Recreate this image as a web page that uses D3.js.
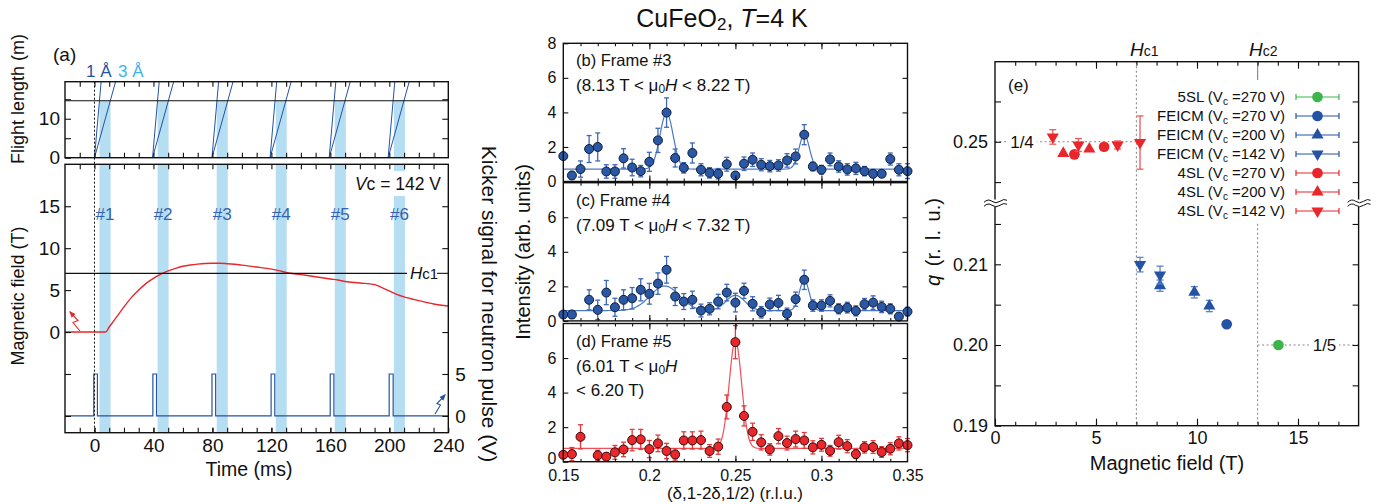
<!DOCTYPE html>
<html>
<head>
<meta charset="utf-8">
<script src="https://cdn.jsdelivr.net/npm/d3@7"></script>
<style>
  body { margin: 0; background: #fff; }
  svg { display: block; font-family: "Liberation Sans", Arial, Helvetica, sans-serif; }
  .tick text { fill: #111; }
</style>
</head>
<body>
<svg id="fig" width="1379" height="504"></svg>
<script>
// ================= data =================
// (a) timing diagram
const pulseStarts   = [0, 39.4, 79.7, 119.1, 159.2, 199.2];   // ms, neutron bunch leaves chopper
const arrival1A     = 4.5;     // ms to cover the full flight axis (1 Å)
const arrival3A     = 14.3;    // ms to cover the full flight axis (3 Å)
const flightTop     = 19.5;    // m, top of flight axis
const detectorDist  = 14.6;    // m, sample-detector flight length
const frameStart    = [3.4, 42.8, 82.9, 123.0, 163.0, 203.1];  // ms
const frameEnd      = [10.9, 50.3, 90.4, 130.4, 170.5, 210.6]; // ms
const frameLabels   = ["#1", "#2", "#3", "#4", "#5", "#6"];
const kickerRise    = [-0.5, 39.6, 79.7, 119.8, 159.9, 199.9]; // ms
const kickerFall    = [2.0, 42.1, 82.2, 122.3, 162.4, 202.6];  // ms
const kickerHigh    = 5;       // V
const fieldTime  = [-20, 7.5, 10, 15, 20, 25, 30, 35, 40, 45, 50, 55, 60, 65, 70, 75, 80, 85, 90, 95, 100, 110, 120, 125, 130, 140, 150, 160, 165, 170, 180, 190, 195, 200, 205, 210, 220, 230, 240];
const fieldValue = [0, 0, 0.6, 1.8, 3.0, 4.1, 5.0, 5.8, 6.4, 6.9, 7.3, 7.6, 7.85, 8.0, 8.1, 8.17, 8.2, 8.2, 8.15, 8.08, 7.98, 7.75, 7.5, 7.32, 7.1, 6.85, 6.6, 6.32, 6.2, 6.02, 5.85, 5.65, 5.3, 4.9, 4.5, 4.2, 3.75, 3.35, 3.1];
const hc1 = 7;   // T

// (b)-(d) line scans along (δ,1-2δ,1/2)
const delta = [0.150, 0.155, 0.160, 0.165, 0.170, 0.175, 0.180, 0.185, 0.190, 0.195,
               0.200, 0.205, 0.210, 0.215, 0.220, 0.225, 0.230, 0.235, 0.240, 0.245,
               0.250, 0.255, 0.260, 0.265, 0.270, 0.275, 0.280, 0.285, 0.290, 0.295,
               0.300, 0.305, 0.310, 0.315, 0.320, 0.325, 0.330, 0.335, 0.340, 0.345, 0.350];
const intensityB = [1.47, 0.35, 0.72, 1.88, 2.0, 0.58, 0.58, 1.34, 0.81, 0.6,
                    1.14, 2.38, 3.99, 1.36, 0.79, 1.65, 0.68, 0.5, 0.45, 1.0,
                    0.35, 1.03, 1.26, 0.97, 0.89, 0.93, 1.22, 1.45, 2.71, 0.87,
                    0.68, 1.28, 0.87, 0.7, 0.76, 0.6, 0.45, 0.45, 1.3, 0.68, 0.6];
const errorB     = [0.05, 0.23, 0.47, 0.78, 0.81, 0.39, 0.39, 0.56, 0.48, 0.33,
                    0.55, 0.7, 0.85, 0.52, 0.3, 0.58, 0.35, 0.3, 0.3, 0.4,
                    0.2, 0.39, 0.39, 0.35, 0.33, 0.33, 0.39, 0.43, 0.58, 0.25,
                    0.25, 0.37, 0.33, 0.33, 0.35, 0.27, 0.23, 0.2, 0.35, 0.35, 0.43];
const intensityC = [0.37, 0.37, null, 1.22, 0.64, 1.64, 0.79, 1.22, 1.31, 1.8,
                    1.57, 2.16, 2.96, 1.41, 1.12, 1.22, 0.6, 0.7, 1.12, 1.64,
                    1.06, 1.74, 0.99, 0.5, 0.95, 1.04, 0.41, 1.26, 2.38, 0.89,
                    0.89, 1.16, 0.7, 0.77, 0.58, 0.97, 1.06, 0.81, 0.7, 0.25, 0.54];
const errorC     = [0.15, 0.23, null, 0.58, 0.56, 0.7, 0.52, 0.58, 0.62, 0.64,
                    0.6, 0.62, 0.77, 0.52, 0.46, 0.5, 0.37, 0.35, 0.42, 0.48,
                    0.54, 0.44, 0.41, 0.33, 0.37, 0.44, 0.33, 0.41, 0.56, 0.33,
                    0.33, 0.35, 0.29, 0.31, 0.29, 0.33, 0.39, 0.33, 0.29, 0.19, 0.25];
const intensityD = [0.4, 0.44, 1.44, null, 0.37, 0.29, 0.54, 0.71, 1.25, 1.29,
                    0.73, 1.06, 0.62, 0.42, 1.23, 1.23, 1.25, 0.62, 0.87, 3.17,
                    6.92, 2.65, 1.73, 1.12, 0.71, 1.48, 1.08, 1.31, 1.23, 0.83,
                    0.98, 0.63, 1.13, 0.9, 0.44, 0.83, 0.85, 0.56, 0.75, 1.06, 0.96];
const errorD     = [0.19, 0.38, 0.7, null, 0.29, 0.23, 0.4, 0.42, 0.62, 0.58,
                    0.5, 0.48, 0.44, 0.33, 0.5, 0.5, 0.52, 0.37, 0.44, 0.69,
                    0.96, 0.58, 0.5, 0.44, 0.33, 0.44, 0.4, 0.46, 0.46, 0.38,
                    0.37, 0.31, 0.4, 0.38, 0.25, 0.33, 0.37, 0.31, 0.35, 0.38, 0.38];
// Gaussian fit parameters: [centre, amplitude, sigma]
const fitBaseB = 0.72, fitPeaksB = [[0.210, 3.25, 0.0038], [0.290, 2.0, 0.0030]];
const fitBaseC = 0.60, fitPeaksC = [[0.209, 1.42, 0.0085], [0.250, 0.88, 0.0055], [0.290, 1.78, 0.0028]];
const fitBaseD = 0.77, fitPeaksD = [[0.250, 6.25, 0.0036]];

// (e) modulation wave number vs field: [field (T), q (r.l.u.), error]
const sl5_270   = [[14.03, 0.2000, 0]];
const feicm_270 = [[11.47, 0.20257, 0.0002]];
const feicm_200 = [[8.17, 0.20735, 0.0007], [9.87, 0.20653, 0.0007], [10.61, 0.20483, 0.0007]];
const feicm_142 = [[7.18, 0.20996, 0.0009], [8.17, 0.20867, 0.0011]];
const sl4_270   = [[3.93, 0.24844, 0.0002], [5.40, 0.24938, 0.0002]];
const sl4_200   = [[3.38, 0.24856, 0.0002], [4.67, 0.24910, 0.0002]];
const sl4_142   = [[2.86, 0.2506, 0.0009], [4.13, 0.2496, 0.0008], [6.07, 0.2496, 0.0005], [7.18, 0.2499, 0.0033]];
const hc2 = 13;  // T

// ================= drawing =================
const svg = d3.select("#fig");
svg.append("rect").attr("width", 1379).attr("height", 504).attr("fill", "#fff");
const defs = svg.append("defs");

const BAND = "#b6def3", RED = "#e8262b", BLUE = "#2452a4", CYAN = "#3ab4ea", GREEN = "#3db54a";

function clip(id, x, y, w, h) {
  defs.append("clipPath").attr("id", id).append("rect").attr("x", x).attr("y", y).attr("width", w).attr("height", h);
  return `url(#${id})`;
}
function noDomain(g) { g.select(".domain").remove(); }
function frame(g, x0, x1, y0, y1) {
  g.append("rect").attr("x", x0).attr("y", y0).attr("width", x1 - x0).attr("height", y1 - y0)
    .attr("fill", "none").attr("stroke", "#111").attr("stroke-width", 1.4);
}
// inward tick axes on all four sides
function ticksBottom(g, x, y, values, len, labels, fmt, size, pad) {
  const a = d3.axisBottom(x).tickValues(values).tickSize(-len).tickPadding(pad || 6)
    .tickFormat(labels ? (fmt || (d => d)) : "");
  return g.append("g").attr("transform", `translate(0,${y})`).call(a).call(noDomain)
    .call(s => s.selectAll("text").attr("font-size", size || 16))
    .call(s => s.selectAll("line").attr("stroke", "#111").attr("stroke-width", 1.1));
}
function ticksTop(g, x, y, values, len) {
  g.append("g").attr("transform", `translate(0,${y})`)
    .call(d3.axisTop(x).tickValues(values).tickSize(-len).tickFormat("")).call(noDomain)
    .call(s => s.selectAll("line").attr("stroke", "#111").attr("stroke-width", 1.1));
}
function ticksLeft(g, y, x, values, len, labels, fmt, size, pad) {
  const a = d3.axisLeft(y).tickValues(values).tickSize(-len).tickPadding(pad || 7)
    .tickFormat(labels ? (fmt || (d => d)) : "");
  return g.append("g").attr("transform", `translate(${x},0)`).call(a).call(noDomain)
    .call(s => s.selectAll("text").attr("font-size", size || 16))
    .call(s => s.selectAll("line").attr("stroke", "#111").attr("stroke-width", 1.1));
}
function ticksRight(g, y, x, values, len, labels, fmt, size, pad) {
  const a = d3.axisRight(y).tickValues(values).tickSize(-len).tickPadding(pad || 7)
    .tickFormat(labels ? (fmt || (d => d)) : "");
  g.append("g").attr("transform", `translate(${x},0)`).call(a).call(noDomain)
    .call(s => s.selectAll("text").attr("font-size", size || 16))
    .call(s => s.selectAll("line").attr("stroke", "#111").attr("stroke-width", 1.1));
}
function arrowMarker(id, color) {
  defs.append("marker").attr("id", id).attr("viewBox", "0 0 10 10").attr("refX", 8).attr("refY", 5)
    .attr("markerWidth", 6).attr("markerHeight", 6).attr("orient", "auto")
    .append("path").attr("d", "M0,1 L10,5 L0,9 Z").attr("fill", color);
}
arrowMarker("arRed", RED);
arrowMarker("arBlue", BLUE);

// ---------- panel (a) ----------
const gA = svg.append("g");
const xA = d3.scaleLinear().domain([-20, 240]).range([65, 448.3]);
const yFl = d3.scaleLinear().domain([0, flightTop]).range([157.7, 81.7]);
const yB = d3.scaleLinear().domain([-12, 20]).range([432.7, 164.3]);
const yK = d3.scaleLinear().domain([-2, 30]).range([432.7, 164.3]);
const clipTop = clip("clipTop", 65, 81.7, 383.3, 76);
const clipBot = clip("clipBot", 65, 164.3, 383.3, 268.4);

// measurement windows
frameStart.forEach((s, i) => {
  gA.append("rect").attr("x", xA(s)).attr("width", xA(frameEnd[i]) - xA(s))
    .attr("y", yFl(detectorDist)).attr("height", yFl(0) - yFl(detectorDist)).attr("fill", BAND);
  gA.append("rect").attr("x", xA(s)).attr("width", xA(frameEnd[i]) - xA(s))
    .attr("y", yB(20)).attr("height", yB(-12) - yB(20)).attr("fill", BAND);
});

// flight-length vs time lines
const gTop = gA.append("g").attr("clip-path", clipTop);
pulseStarts.forEach(t0 => {
  [arrival1A, arrival3A].forEach(dt => {
    gTop.append("line").attr("x1", xA(t0)).attr("y1", yFl(0)).attr("x2", xA(t0 + dt)).attr("y2", yFl(flightTop))
      .attr("stroke", BLUE).attr("stroke-width", 1);
  });
});
gTop.append("line").attr("x1", xA(-20)).attr("x2", xA(240)).attr("y1", yFl(detectorDist)).attr("y2", yFl(detectorDist))
  .attr("stroke", "#111").attr("stroke-width", 1.1);

// magnetic field pulse
const gBot = gA.append("g").attr("clip-path", clipBot);
gBot.append("path")
  .datum(fieldTime.map((t, i) => [t, fieldValue[i]]))
  .attr("d", d3.line().x(d => xA(d[0])).y(d => yB(d[1])).curve(d3.curveMonotoneX))
  .attr("fill", "none").attr("stroke", RED).attr("stroke-width", 1.4);

// Hc1 reference line
gA.append("line").attr("x1", xA(-20)).attr("x2", 407).attr("y1", yB(hc1)).attr("y2", yB(hc1))
  .attr("stroke", "#111").attr("stroke-width", 1.1);
gA.append("line").attr("x1", 437).attr("x2", xA(240)).attr("y1", yB(hc1)).attr("y2", yB(hc1))
  .attr("stroke", "#111").attr("stroke-width", 1.1);
const hcA = gA.append("text").attr("x", 410).attr("y", yB(hc1) + 6).attr("font-size", 17).attr("fill", "#111");
hcA.append("tspan").attr("font-style", "italic").text("H");
hcA.append("tspan").attr("font-size", 15).text("c1");

// kicker signal
const kick = [[-20, 0]];
kickerRise.forEach((r, i) => { kick.push([r, 0], [r, kickerHigh], [kickerFall[i], kickerHigh], [kickerFall[i], 0]); });
kick.push([240, 0]);
gBot.append("path").datum(kick)
  .attr("d", d3.line().x(d => xA(d[0])).y(d => yK(d[1])))
  .attr("fill", "none").attr("stroke", BLUE).attr("stroke-width", 1.2);

// t = 0 marker
gA.append("line").attr("x1", xA(0)).attr("x2", xA(0)).attr("y1", yFl(flightTop)).attr("y2", yB(-12))
  .attr("stroke", "#111").attr("stroke-width", 1).attr("stroke-dasharray", "2,2");

// frame numbers
frameStart.forEach((s, i) => {
  gA.append("text").attr("x", xA((s + frameEnd[i]) / 2)).attr("y", 220).attr("text-anchor", "middle")
    .attr("font-size", 17).attr("fill", "#3461ad").text(frameLabels[i]);
});

// Vc annotation
gA.append("rect").attr("x", 352).attr("y", 171).attr("width", 94).attr("height", 25).attr("fill", "#fff");
const vc = gA.append("text").attr("x", 441).attr("y", 190).attr("text-anchor", "end").attr("font-size", 17.5).attr("fill", "#111");
vc.append("tspan").attr("font-style", "italic").text("V");
vc.append("tspan").text("c = 142 V");

// zigzag arrows marking which axis each trace uses
gA.append("path").attr("d", "M80,331 L73,322.5 L78,320.5 L70,312")
  .attr("fill", "none").attr("stroke", RED).attr("stroke-width", 1.1).attr("marker-end", "url(#arRed)");
gA.append("path").attr("d", "M435,414 L440.5,405 L437,403.5 L445,395")
  .attr("fill", "none").attr("stroke", BLUE).attr("stroke-width", 1.1).attr("marker-end", "url(#arBlue)");

// frames and axes
frame(gA, 65, 448.3, 81.7, 157.7);
frame(gA, 65, 448.3, 164.3, 432.7);
const minorT = d3.range(-10, 240, 10);
ticksTop(gA, xA, 81.7, minorT, 5);
ticksBottom(gA, xA, 157.7, minorT, 5, false);
ticksTop(gA, xA, 164.3, minorT, 5);
ticksBottom(gA, xA, 432.7, minorT, 5, false);
ticksBottom(gA, xA, 432.7, [0, 40, 80, 120, 160, 200, 240], 5, true, null, 19, 6);
ticksLeft(gA, yFl, 65, [5, 15], 6, false);
ticksLeft(gA, yFl, 65, [0, 10], 6, true, null, 19, 5);
ticksRight(gA, yFl, 448.3, [5, 10, 15], 6, false);
ticksLeft(gA, yB, 65, [-10, -5], 6, false);
ticksLeft(gA, yB, 65, [0, 5, 10, 15], 6, true, null, 19, 5);
ticksRight(gA, yB, 448.3, [0, 10, 15], 6, false);
ticksRight(gA, yK, 448.3, [0, 5], 6, true, null, 19, 7);

gA.append("text").attr("x", 53).attr("y", 61).attr("font-size", 19).attr("fill", "#111").text("(a)");
gA.append("text").attr("x", 86).attr("y", 77).attr("font-size", 17).attr("fill", BLUE).text("1 Å");
gA.append("text").attr("x", 118).attr("y", 77).attr("font-size", 17).attr("fill", CYAN).text("3 Å");
gA.append("text").attr("transform", "translate(24,99) rotate(-90)").attr("text-anchor", "middle")
  .attr("font-size", 18).attr("fill", "#111").text("Flight length (m)");
gA.append("text").attr("transform", "translate(24,296) rotate(-90)").attr("text-anchor", "middle")
  .attr("font-size", 18).attr("fill", "#111").text("Magnetic field (T)");
gA.append("text").attr("transform", "translate(482,304) rotate(90)").attr("text-anchor", "middle")
  .attr("font-size", 21).attr("fill", "#111").text("Kicker signal for neutron pulse (V)");
gA.append("text").attr("x", 249).attr("y", 476).attr("text-anchor", "middle")
  .attr("font-size", 19.5).attr("fill", "#111").text("Time (ms)");

// ---------- panels (b)-(d) ----------
const xM = d3.scaleLinear().domain([0.15, 0.35]).range([563.3, 907.5]);
const scans = [
  { top: 43.3, y: intensityB, e: errorB, base: fitBaseB, peaks: fitPeaksB,
    fill: "#2a58a5", stroke: "#0e1d3c", bar: "#3d68b6", fit: "#4a78c8",
    lines: ["(b) Frame #3", ["(8.13 T < μ", "0", "H", " < 8.22 T)"]], yl: [0, 2, 4, 6, 8] },
  { top: 182.7, y: intensityC, e: errorC, base: fitBaseC, peaks: fitPeaksC,
    fill: "#2a58a5", stroke: "#0e1d3c", bar: "#3d68b6", fit: "#4a78c8",
    lines: ["(c) Frame #4", ["(7.09 T < μ", "0", "H", " < 7.32 T)"]], yl: [0, 2, 4, 6] },
  { top: 323.5, y: intensityD, e: errorD, base: fitBaseD, peaks: fitPeaksD,
    fill: "#e8282c", stroke: "#3a0808", bar: "#e23a3a", fit: "#f0505a",
    lines: ["(d) Frame #5", ["(6.01 T < μ", "0", "H", ""], "< 6.20 T)"], yl: [0, 2, 4, 6] }
];
const H = 138.2;
const fitX = d3.range(0, 401).map(i => 0.15 + i * 0.0005);
scans.forEach((p, k) => {
  const g = svg.append("g");
  const y = d3.scaleLinear().domain([0, 8]).range([p.top + H, p.top]);
  // fit curve (sum of Gaussians on a flat background)
  const model = q => p.base + d3.sum(p.peaks, pk => pk[1] * Math.exp(-((q - pk[0]) ** 2) / (2 * pk[2] * pk[2])));
  g.append("path").datum(fitX).attr("d", d3.line().x(q => xM(q)).y(q => y(model(q))))
    .attr("fill", "none").attr("stroke", p.fit).attr("stroke-width", 1.2);
  const pts = delta.map((d, i) => ({ d, v: p.y[i], e: p.e[i] })).filter(o => o.v !== null);
  const bars = g.append("g").attr("stroke", p.bar).attr("stroke-width", 1.3);
  pts.forEach(o => {
    if (o.e > 0.06) {
      bars.append("line").attr("x1", xM(o.d)).attr("x2", xM(o.d)).attr("y1", y(o.v - o.e)).attr("y2", y(o.v + o.e));
      [o.v - o.e, o.v + o.e].forEach(v => bars.append("line").attr("x1", xM(o.d) - 2.5).attr("x2", xM(o.d) + 2.5).attr("y1", y(v)).attr("y2", y(v)));
    }
  });
  g.selectAll("circle").data(pts).join("circle")
    .attr("cx", o => xM(o.d)).attr("cy", o => y(o.v)).attr("r", 4.5)
    .attr("fill", p.fill).attr("stroke", p.stroke).attr("stroke-width", 1);
  frame(g, 563.3, 907.5, p.top, p.top + H);
  const minorX = d3.range(16, 35).map(i => i / 100);
  ticksBottom(g, xM, p.top + H, minorX, 3, false);
  ticksTop(g, xM, p.top, minorX, 3);
  ticksBottom(g, xM, p.top + H, [0.2, 0.25, 0.3], 6, false);
  ticksTop(g, xM, p.top, [0.2, 0.25, 0.3], 6);
  const yAx = ticksLeft(g, y, 563.3, p.yl, 5, true, null, 16, 7);
  ticksRight(g, y, 907.5, [2, 4, 6], 5, false);
  if (k === 2) {
    // lift the bottom "0" a little so it clears the δ labels
    yAx.selectAll(".tick").filter(d => d === 0).select("text").attr("dy", "0.12em");
    ticksBottom(g, xM, p.top + H, [0.15, 0.2, 0.25, 0.3, 0.35], 0, true, d => d, 16, 8);
  }
  // annotation
  g.append("text").attr("x", 576).attr("y", p.top + 23).attr("font-size", 16.5).attr("fill", "#111").text(p.lines[0]);
  const t2 = g.append("text").attr("x", 576).attr("y", p.top + 48).attr("font-size", 17).attr("fill", "#111");
  t2.append("tspan").text(p.lines[1][0]);
  t2.append("tspan").attr("font-size", 12).attr("dy", 2).text(p.lines[1][1]);
  t2.append("tspan").attr("font-style", "italic").attr("dy", -2).text(p.lines[1][2]);
  if (p.lines[1][3]) t2.append("tspan").text(p.lines[1][3]);
  if (p.lines[2]) g.append("text").attr("x", 576).attr("y", p.top + 72).attr("font-size", 17).attr("fill", "#111").text(p.lines[2]);
});
svg.append("text").attr("transform", "translate(530,252) rotate(-90)").attr("text-anchor", "middle")
  .attr("font-size", 20).attr("fill", "#111").text("Intensity (arb. units)");
svg.append("text").attr("x", 735).attr("y", 499).attr("text-anchor", "middle")
  .attr("font-size", 17).attr("fill", "#111").text("(δ,1-2δ,1/2) (r.l.u.)");
const title = svg.append("text").attr("x", 722).attr("y", 27).attr("text-anchor", "middle").attr("font-size", 25).attr("fill", "#111");
title.append("tspan").text("CuFeO");
title.append("tspan").attr("font-size", 17).attr("dy", 3).text("2");
title.append("tspan").attr("dy", -3).text(", ");
title.append("tspan").attr("font-style", "italic").text("T");
title.append("tspan").text("=4 K");

// ---------- panel (e) ----------
const gE = svg.append("g");
const xE = d3.scaleLinear().domain([0, 18]).range([995, 1358.6]);
const yU = d3.scaleLinear().domain([0.24237, 0.25993]).range([203.3, 61.7]);
const yL = d3.scaleLinear().domain([0.19, 0.21756]).range([425.7, 203.3]);
const yE = q => (q > 0.23 ? yU(q) : yL(q));
const eTop = 61.7, eBot = 425.7, eL = 995, eR = 1358.6;

// guide lines
const dot = { stroke: "#8a8a8a", "stroke-width": 1.1, "stroke-dasharray": "2,2.5" };
function gline(x1, y1, x2, y2, st) {
  const l = gE.append("line").attr("x1", x1).attr("y1", y1).attr("x2", x2).attr("y2", y2);
  Object.entries(st).forEach(([k, v]) => l.attr(k, v));
}
gline(xE(hc1), eTop, xE(hc1), eBot, dot);
gline(xE(hc2), eTop, xE(hc2), eBot, dot);
gline(xE(hc2), eTop, xE(hc2), 80, { stroke: "#8a8a8a", "stroke-width": 1.1 });
gline(eL, yE(0.25), xE(7.1), yE(0.25), dot);
gline(xE(hc2), yE(0.20), eR, yE(0.20), dot);
gE.append("rect").attr("x", 1007).attr("y", yE(0.25) - 9).attr("width", 30).attr("height", 18).attr("fill", "#fff");
gE.append("text").attr("x", 1022).attr("y", yE(0.25) + 6).attr("text-anchor", "middle").attr("font-size", 17).attr("fill", "#111").text("1/4");
gE.append("rect").attr("x", 1309).attr("y", yE(0.20) - 9).attr("width", 30).attr("height", 18).attr("fill", "#fff");
gE.append("text").attr("x", 1324.5).attr("y", yE(0.20) + 6).attr("text-anchor", "middle").attr("font-size", 17).attr("fill", "#111").text("1/5");

// series
const seriesE = [
  { name: "5SL",   vc: 270, color: GREEN, bar: "#5cc56a", shape: "circle", data: sl5_270 },
  { name: "FEICM", vc: 270, color: BLUE,  bar: "#5a84c8", shape: "circle", data: feicm_270 },
  { name: "FEICM", vc: 200, color: BLUE,  bar: "#5a84c8", shape: "up",     data: feicm_200 },
  { name: "FEICM", vc: 142, color: BLUE,  bar: "#5a84c8", shape: "down",   data: feicm_142 },
  { name: "4SL",   vc: 270, color: RED,   bar: "#ee5a5a", shape: "circle", data: sl4_270 },
  { name: "4SL",   vc: 200, color: RED,   bar: "#ee5a5a", shape: "up",     data: sl4_200 },
  { name: "4SL",   vc: 142, color: RED,   bar: "#ee5a5a", shape: "down",   data: sl4_142 }
];
function symbolPath(shape) {
  if (shape === "circle") return d3.symbol().type(d3.symbolCircle).size(90)();
  return d3.symbol().type(d3.symbolTriangle).size(64)();
}
function drawMarker(g, shape, cx, cy, color) {
  g.append("path").attr("d", symbolPath(shape))
    .attr("transform", `translate(${cx},${cy})${shape === "down" ? " rotate(180)" : ""}`)
    .attr("fill", color);
}
seriesE.forEach(s => {
  s.data.forEach(([h, q, e]) => {
    const cx = xE(h);
    if (e > 0.0003) {
      gE.append("line").attr("x1", cx).attr("x2", cx).attr("y1", yE(q - e)).attr("y2", yE(q + e)).attr("stroke", s.bar).attr("stroke-width", 1.3);
      [q - e, q + e].forEach(v => gE.append("line").attr("x1", cx - 3.5).attr("x2", cx + 3.5).attr("y1", yE(v)).attr("y2", yE(v)).attr("stroke", s.bar).attr("stroke-width", 1.3));
    }
    drawMarker(gE, s.shape, cx, yE(q), s.color);
  });
});

// legend
gE.append("rect").attr("x", 1152).attr("y", 80).attr("width", 195).attr("height", 142).attr("fill", "#fff");
seriesE.forEach((s, i) => {
  const yy = 97 + i * 19;
  const t = gE.append("text").attr("x", 1285).attr("y", yy + 5).attr("text-anchor", "end").attr("font-size", 15).attr("fill", "#111");
  t.append("tspan").text(`${s.name} (V`);
  t.append("tspan").attr("font-size", 10).attr("dy", 3).text("c");
  t.append("tspan").attr("dy", -3).text(` =${s.vc} V)`);
  gE.append("line").attr("x1", 1296).attr("x2", 1339).attr("y1", yy).attr("y2", yy).attr("stroke", s.color).attr("stroke-width", 1.2);
  [1296, 1339].forEach(x => gE.append("line").attr("x1", x).attr("x2", x).attr("y1", yy - 3).attr("y2", yy + 3).attr("stroke", s.color).attr("stroke-width", 1.2));
  drawMarker(gE, s.shape, 1317.5, yy, s.color);
});

// frame, ticks
frame(gE, eL, eR, eTop, eBot);
ticksBottom(gE, xE, eBot, d3.range(1, 18), 4, false);
ticksTop(gE, xE, eTop, d3.range(1, 18), 4);
ticksBottom(gE, xE, eBot, [0, 5, 10, 15], 7, true, d => d, 18, 6);
ticksTop(gE, xE, eTop, [5, 10, 15], 7);
ticksLeft(gE, yL, eL, [0.195, 0.205, 0.215], 6, false);
ticksLeft(gE, yL, eL, [0.19, 0.20, 0.21], 6, true, d3.format(".2f"), 18, 7);
ticksLeft(gE, yU, eL, [0.245, 0.255], 6, false);
ticksLeft(gE, yU, eL, [0.25], 6, true, d3.format(".2f"), 18, 7);
ticksRight(gE, yL, eR, [0.195, 0.20, 0.205, 0.21, 0.215], 6, false);
ticksRight(gE, yU, eR, [0.245, 0.25, 0.255], 6, false);

// axis breaks
[eL, eR].forEach(x => {
  gE.append("rect").attr("x", x - 3).attr("y", 199.5).attr("width", 6).attr("height", 7.5).attr("fill", "#fff");
  [-2, 2].forEach(dy => {
    gE.append("path").attr("d", `M${x - 11},${203.3 + dy + 1} q4,-4 8,-1 t8,0 t7,-1`)
      .attr("fill", "none").attr("stroke", "#111").attr("stroke-width", 1);
  });
});

// labels
gE.append("text").attr("x", 1008).attr("y", 91).attr("font-size", 17).attr("fill", "#111").text("(e)");
[[hc1, "c1", 1130], [hc2, "c2", 1249]].forEach(([h, sub, x0]) => {
  const t = gE.append("text").attr("x", x0).attr("y", 56).attr("font-size", 19).attr("fill", "#111");
  t.append("tspan").attr("font-style", "italic").text("H");
  t.append("tspan").attr("font-size", 14).text(sub);
});
const qlab = gE.append("text").attr("transform", "translate(940,242) rotate(-90)").attr("text-anchor", "middle")
  .attr("font-size", 20).attr("word-spacing", 3).attr("fill", "#111");
qlab.append("tspan").attr("font-style", "italic").text("q");
qlab.append("tspan").text(" (r. l. u.)");
gE.append("text").attr("x", 1167).attr("y", 470).attr("text-anchor", "middle").attr("font-size", 20).attr("fill", "#111").text("Magnetic field (T)");
</script>
</body>
</html>
